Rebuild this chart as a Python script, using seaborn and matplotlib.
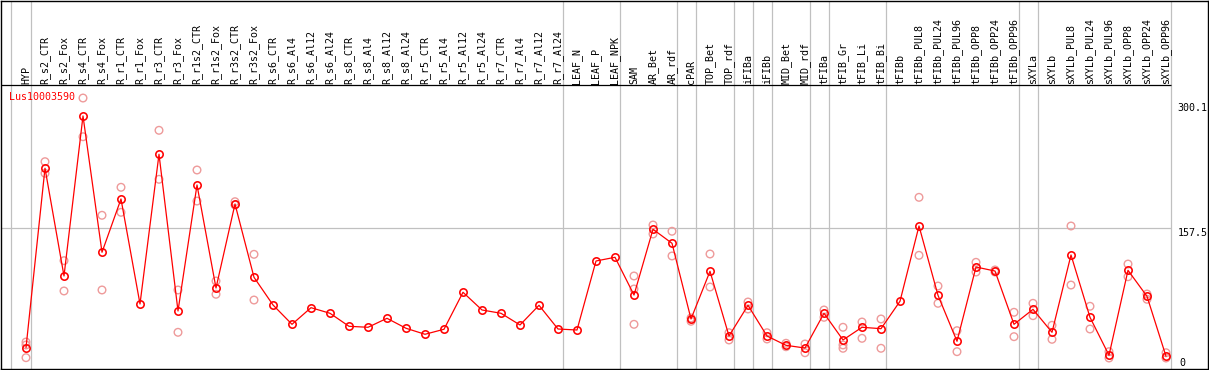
import numpy as np
import pandas as pd
import matplotlib
matplotlib.use("Agg")
import matplotlib.pyplot as plt
import seaborn as sns

# ---------------- data ----------------
gene = "Lus10003590"

samples = ["HYP", "R_s2_CTR", "R_s2_Fox", "R_s4_CTR", "R_s4_Fox", "R_r1_CTR", "R_r1_Fox",
           "R_r3_CTR", "R_r3_Fox", "R_r1s2_CTR", "R_r1s2_Fox", "R_r3s2_CTR", "R_r3s2_Fox",
           "R_s6_CTR", "R_s6_Al4", "R_s6_Al12", "R_s6_Al24", "R_s8_CTR", "R_s8_Al4",
           "R_s8_Al12", "R_s8_Al24", "R_r5_CTR", "R_r5_Al4", "R_r5_Al12", "R_r5_Al24",
           "R_r7_CTR", "R_r7_Al4", "R_r7_Al12", "R_r7_Al24", "LEAF_N", "LEAF_P", "LEAF_NPK",
           "SAM", "AR_Bet", "AR_rdf", "cPAR", "TOP_Bet", "TOP_rdf", "iFIBa", "iFIBb",
           "MID_Bet", "MID_rdf", "tFIBa", "tFIB_Gr", "tFIB_Li", "tFIB_Bi", "tFIBb",
           "tFIBb_PUL8", "tFIBb_PUL24", "tFIBb_PUL96", "tFIBb_OPP8", "tFIBb_OPP24", "tFIBb_OPP96",
           "sXYLa", "sXYLb", "sXYLb_PUL8", "sXYLb_PUL24", "sXYLb_PUL96", "sXYLb_OPP8",
           "sXYLb_OPP24", "sXYLb_OPP96"]

means = [12.5, 230.4, 99.6, 293.9, 128.4, 193.1, 65.6, 247.4, 57.1, 210.1, 85.0, 187.0, 98.0,
         64.4, 40.9, 61.1, 54.3, 38.5, 37.3, 48.2, 36.1, 28.8, 34.9, 79.8, 58.3, 54.3, 40.1,
         64.0, 35.2, 34.0, 117.8, 122.3,
         76.5, 156.3, 139.3, 47.4, 105.3, 26.7, 64.0, 26.7, 15.4, 12.1, 54.3, 21.9, 37.3, 35.6,
         68.9, 160.3, 76.1, 20.3, 110.5, 105.6, 40.9,
         59.1, 31.2, 125.1, 49.4, 3.3, 106.5, 74.9, 2.1]

nan = np.nan
rep1 = [19.4, 238.4, 118.2, 315.7, 173.3, 207.3, nan, 276.5, 82.6, 228.3, 93.5, 189.8, 125.9,
        nan, nan, nan, nan, nan, nan, nan, nan, nan, nan, nan, nan, nan, nan, nan, nan, nan, nan, nan,
        99.6, 161.5, 153.9, 44.6, 126.3, 30.7, 68.0, 30.7, 17.9, 17.0, 58.3, 37.3, 43.7, 47.4,
        nan, 195.1, 87.4, 33.2, 116.2, 104.4, 55.5,
        66.4, 39.7, 160.3, 62.8, 7.7, 114.1, 77.7, 6.4]
rep2 = [0.4, 224.3, 81.4, 268.7, 82.6, 176.9, nan, 217.0, 31.2, 190.6, 77.4, 185.8, 70.4,
        nan, nan, nan, nan, nan, nan, nan, nan, nan, nan, nan, nan, nan, nan, nan, nan, nan, nan, nan,
        40.9, 150.6, 123.9, 48.6, 86.2, 21.9, 59.5, 23.1, 13.7, 6.4, 49.4, 11.8, 23.9, 11.8,
        nan, 124.7, 66.4, 7.7, 104.4, 106.9, 25.9,
        51.4, 22.7, 88.6, 35.2, 0.0, 98.7, 71.3, 0.0]
rep3 = [15.8] + [nan] * 31 + [83.8] + [nan] * 10 + [15.8] + [nan] * 17

# index of last sample in each group (group separators)
group_ends = [0, 28, 31, 34, 35, 37, 38, 39, 41, 42, 45, 52, 53, 60]

ytick_values = [0, 157.5, 300.1]
ytick_labels = ["0", "157.5", "300.1"]
grid_value = 157.5

# ---------------- layout helpers ----------------
W, H = 1209, 370
PX0, DX = 26.0, 19.0          # pixel x of first sample, spacing
Y0, SY = 358.0, 0.8235        # pixel y of value 0, px per unit


def vx(px):
    return (px - PX0) / DX


def vy(py):
    return (Y0 - py) / SY


mono = ["DejaVu Sans Mono"]
fs = 7.2

sns.set_style("white")
plt.rcParams["font.family"] = mono

fig = plt.figure(figsize=(W / 100, H / 100), dpi=100)
ax = fig.add_axes([0.5 / W, 1.5 / H, 1207 / W, 368 / H])

idx = np.arange(len(samples))
df_mean = pd.DataFrame({"idx": idx, "value": means, "sample": samples})
df_rep = pd.DataFrame({
    "idx": np.concatenate([idx, idx, idx]),
    "value": np.concatenate([rep1, rep2, rep3]),
}).dropna()

grid_col = "#C0C0C0"
right_edge = group_ends[-1] + 0.25

# group separator lines (full height)
ax.axvline(-0.8, color=grid_col, lw=0.9, zorder=1)
for g in group_ends:
    ax.axvline(g + 0.25, color=grid_col, lw=0.9, zorder=1)
# horizontal gridline
ax.hlines(grid_value, vx(0), right_edge, color=grid_col, lw=0.9, zorder=1)
# header separator
ax.hlines(vy(85), vx(0), right_edge, color="black", lw=0.9, zorder=1)

# replicates
sns.scatterplot(data=df_rep, x="idx", y="value", ax=ax, marker="o", s=30,
                facecolor="none", edgecolor="#EE9A9A", linewidth=1.0, zorder=2)
# means
sns.lineplot(data=df_mean, x="idx", y="value", ax=ax, color="red", lw=0.9,
             marker="o", markersize=5.3, markerfacecolor="none", markeredgecolor="red",
             markeredgewidth=1.15, estimator=None, sort=False, zorder=3)

# sample labels
for i, s in enumerate(samples):
    ax.text(i, vy(83.5), s, rotation=90, ha="center", va="bottom",
            fontsize=fs, family=mono, color="black")

# gene title
ax.text(vx(9.3), vy(97), gene, ha="left", va="center", fontsize=fs, family=mono, color="red")

# y value labels on the right
ylab_px = {"0": (1179.5, 358.0), "157.5": (1178, 228.3), "300.1": (1177, 103.0)}
for v, lab in zip(ytick_values, ytick_labels):
    px, py = ylab_px[lab]
    ax.text(vx(px), vy(py), lab, ha="left", va="top", fontsize=fs, family=mono, color="black")

ax.set_xlim(vx(0.5), vx(1207.5))
ax.set_ylim(vy(368.5), vy(0.5))
ax.set_xticks([])
ax.set_yticks([])
ax.set_xlabel("")
ax.set_ylabel("")
for sp in ax.spines.values():
    sp.set_color("black")
    sp.set_linewidth(1.0)
    sp.set_visible(True)

fig.savefig("out.png", dpi=100)
